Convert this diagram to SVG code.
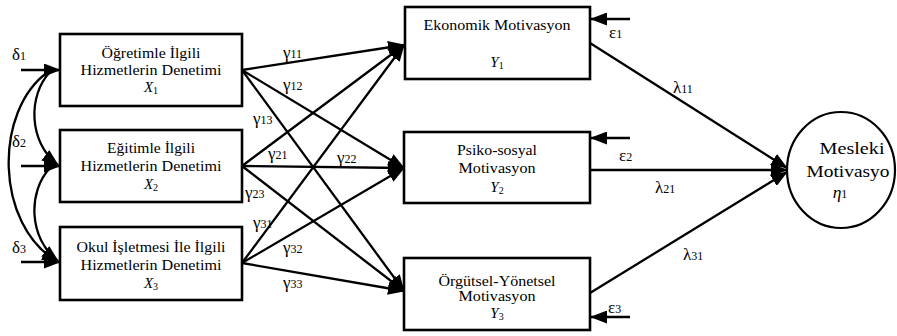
<svg xmlns="http://www.w3.org/2000/svg" width="897" height="336" viewBox="0 0 897 336">
<style>
.box{fill:#fff;stroke:#000;stroke-width:2.6}
.ln{fill:none;stroke:#000;stroke-width:2.3}
.t{font-family:"Liberation Serif","Times New Roman",serif;font-size:14.5px;fill:#000;text-anchor:middle}
.v{font-family:"Liberation Serif","Times New Roman",serif;font-size:15px;font-style:italic;fill:#000;text-anchor:middle}
.sb{font-size:10px;font-style:normal}
.g{font-family:"Liberation Serif","Times New Roman",serif;font-size:17px;fill:#000}
.s{font-size:12px}
.c{font-family:"Liberation Serif","Times New Roman",serif;font-size:17.5px;fill:#000;text-anchor:middle}
</style>
<defs>
<marker id="ah" markerUnits="userSpaceOnUse" markerWidth="17" markerHeight="13" viewBox="0 0 17 13" refX="16" refY="6.5" orient="auto">
<path d="M0,0 L17,6.5 L0,13 z" fill="#000"/>
</marker>
</defs>

<g id="connectors">
<line class="ln" x1="21" y1="70" x2="60" y2="70" marker-end="url(#ah)"/>
<line class="ln" x1="21" y1="166" x2="60" y2="166" marker-end="url(#ah)"/>
<line class="ln" x1="21" y1="262" x2="60" y2="262" marker-end="url(#ah)"/>
<line class="ln" x1="630" y1="19" x2="591" y2="19" marker-end="url(#ah)"/>
<line class="ln" x1="630" y1="138" x2="591" y2="138" marker-end="url(#ah)"/>
<line class="ln" x1="630" y1="317" x2="591" y2="317" marker-end="url(#ah)"/>
<path class="ln" d="M50,72 C28,95 28,142 58,165" marker-end="url(#ah)"/>
<path class="ln" d="M50,168 C28,191 28,238 58,261" marker-end="url(#ah)"/>
<path class="ln" d="M48,72 C-6,110 -6,225 58,262" marker-end="url(#ah)"/>
<line class="ln" x1="242" y1="70" x2="404" y2="45" marker-end="url(#ah)"/>
<line class="ln" x1="242" y1="70" x2="404" y2="168" marker-end="url(#ah)"/>
<line class="ln" x1="242" y1="70" x2="404" y2="291" marker-end="url(#ah)"/>
<line class="ln" x1="242" y1="166" x2="404" y2="45" marker-end="url(#ah)"/>
<line class="ln" x1="242" y1="166" x2="404" y2="168" marker-end="url(#ah)"/>
<line class="ln" x1="242" y1="166" x2="404" y2="291" marker-end="url(#ah)"/>
<line class="ln" x1="242" y1="263" x2="404" y2="45" marker-end="url(#ah)"/>
<line class="ln" x1="242" y1="263" x2="404" y2="168" marker-end="url(#ah)"/>
<line class="ln" x1="242" y1="263" x2="404" y2="291" marker-end="url(#ah)"/>
<line class="ln" x1="590" y1="43" x2="787" y2="168" marker-end="url(#ah)"/>
<line class="ln" x1="590" y1="170" x2="787" y2="170" marker-end="url(#ah)"/>
<line class="ln" x1="590" y1="293" x2="787" y2="172" marker-end="url(#ah)"/>
</g>

<g id="labels">
<text class="g" x="12" y="60">δ<tspan class="s">1</tspan></text>
<text class="g" x="12" y="147">δ<tspan class="s">2</tspan></text>
<text class="g" x="12" y="253">δ<tspan class="s">3</tspan></text>
<text class="g" x="609" y="38">ε<tspan class="s">1</tspan></text>
<text class="g" x="619" y="161">ε<tspan class="s">2</tspan></text>
<text class="g" x="608" y="313">ε<tspan class="s">3</tspan></text>
<text class="g" x="283" y="58">γ<tspan class="s">11</tspan></text>
<text class="g" x="283" y="90">γ<tspan class="s">12</tspan></text>
<text class="g" x="253" y="124">γ<tspan class="s">13</tspan></text>
<text class="g" x="268" y="159">γ<tspan class="s">21</tspan></text>
<text class="g" x="337" y="163">γ<tspan class="s">22</tspan></text>
<text class="g" x="245" y="198">γ<tspan class="s">23</tspan></text>
<text class="g" x="253" y="228">γ<tspan class="s">31</tspan></text>
<text class="g" x="283" y="253">γ<tspan class="s">32</tspan></text>
<text class="g" x="283" y="288">γ<tspan class="s">33</tspan></text>
<text class="g" x="673" y="93">λ<tspan class="s">11</tspan></text>
<text class="g" x="655" y="193">λ<tspan class="s">21</tspan></text>
<text class="g" x="683" y="260">λ<tspan class="s">31</tspan></text>
</g>

<g id="X1">
<rect class="box" x="60" y="34" width="182" height="72"/>
<text class="t" x="151" y="58" textLength="99" lengthAdjust="spacingAndGlyphs">Öğretimle İlgili</text>
<text class="t" x="151" y="75" textLength="141" lengthAdjust="spacingAndGlyphs">Hizmetlerin Denetimi</text>
<text class="v" x="151" y="92">X<tspan class="sb" dy="2">1</tspan></text>
</g>
<g id="X2">
<rect class="box" x="60" y="130" width="182" height="72"/>
<text class="t" x="151" y="153" textLength="88" lengthAdjust="spacingAndGlyphs">Eğitimle İlgili</text>
<text class="t" x="151" y="171" textLength="141" lengthAdjust="spacingAndGlyphs">Hizmetlerin Denetimi</text>
<text class="v" x="151" y="189">X<tspan class="sb" dy="2">2</tspan></text>
</g>
<g id="X3">
<rect class="box" x="60" y="227" width="182" height="73"/>
<text class="t" x="151" y="252" textLength="149" lengthAdjust="spacingAndGlyphs">Okul İşletmesi İle İlgili</text>
<text class="t" x="151" y="270" textLength="141" lengthAdjust="spacingAndGlyphs">Hizmetlerin Denetimi</text>
<text class="v" x="151" y="288">X<tspan class="sb" dy="2">3</tspan></text>
</g>
<g id="Y1">
<rect class="box" x="405" y="7" width="185" height="72"/>
<text class="t" x="497" y="30" textLength="147" lengthAdjust="spacingAndGlyphs">Ekonomik Motivasyon</text>
<text class="v" x="497" y="67">Y<tspan class="sb" dy="2">1</tspan></text>
</g>
<g id="Y2">
<rect class="box" x="404" y="132" width="186" height="71"/>
<text class="t" x="497" y="155" textLength="80" lengthAdjust="spacingAndGlyphs">Psiko-sosyal</text>
<text class="t" x="497" y="173" textLength="77" lengthAdjust="spacingAndGlyphs">Motivasyon</text>
<text class="v" x="497" y="192">Y<tspan class="sb" dy="2">2</tspan></text>
</g>
<g id="Y3">
<rect class="box" x="404" y="258" width="186" height="72"/>
<text class="t" x="497" y="286" textLength="117" lengthAdjust="spacingAndGlyphs">Örgütsel-Yönetsel</text>
<text class="t" x="497" y="301" textLength="77" lengthAdjust="spacingAndGlyphs">Motivasyon</text>
<text class="v" x="497" y="318">Y<tspan class="sb" dy="2">3</tspan></text>
</g>
<g id="eta1">
<ellipse cx="841" cy="170" rx="54" ry="58" fill="#fff" stroke="#000" stroke-width="2.2"/>
<text class="c" x="852" y="154" textLength="65" lengthAdjust="spacingAndGlyphs">Mesleki</text>
<text class="c" x="848" y="177" textLength="83" lengthAdjust="spacingAndGlyphs">Motivasyo</text>
<text class="c" x="840" y="198" font-style="italic">η<tspan font-size="12" font-style="normal">1</tspan></text>
</g>
</svg>
